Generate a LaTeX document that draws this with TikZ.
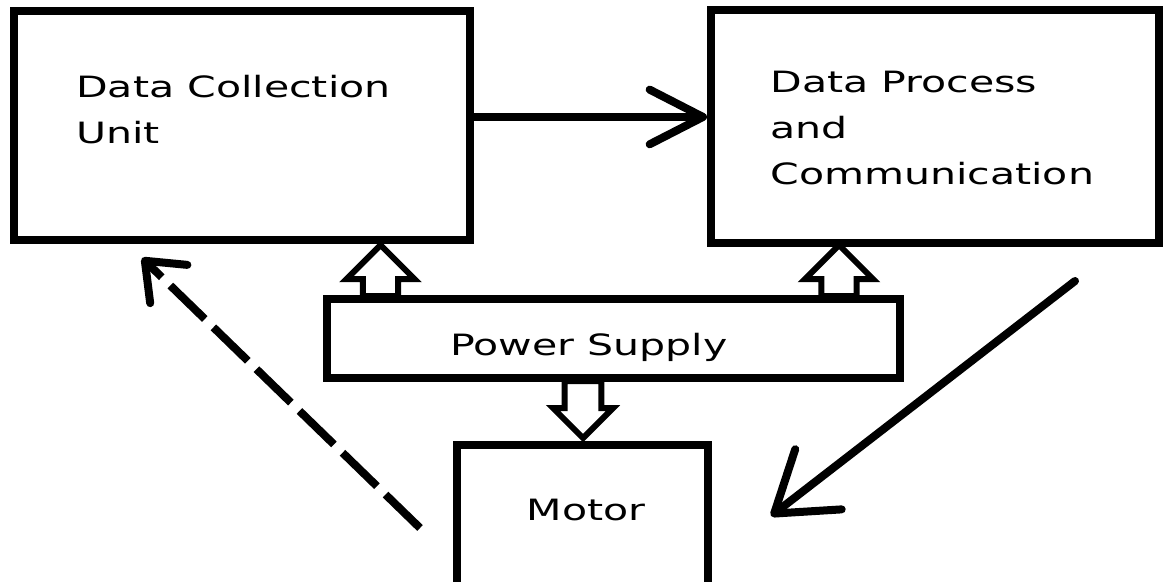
\documentclass[tikz,border=0pt]{standalone}
\usepackage{fontspec}
\setmainfont{DejaVu Sans}
\usetikzlibrary{arrows.meta,shapes.arrows}
\def\blocknode{\node[draw,line width=6pt,inner sep=0pt]}
\def\labelnode{\node[xscale=1.4,align=left,inner sep=0pt,font=\fontsize{22pt}{34.5pt}\selectfont]}
\def\powerarrow{\node[single arrow,draw,fill=white,line width=4.5pt,inner xsep=0pt,anchor=tail]}

\begin{document}
\begin{tikzpicture}[x=0.75pt,y=-0.75pt]
\useasboundingbox (0,0) rectangle (1164,582);
\clip (0,0) rectangle (1164,582);
% the four blocks
\blocknode[minimum width=342pt,minimum height=171.75pt] (collect) at (242,125.5) {};
\blocknode[minimum width=336pt,minimum height=174.75pt] (process) at (935,126.5) {};
\blocknode[minimum width=429.75pt,minimum height=59.25pt] (power) at (613.5,338.5) {};
\blocknode[minimum width=188.25pt,minimum height=131.25pt] (motor) at (582.5,532.5) {};
\labelnode[anchor=base west] (collecttext) at (76,143) {Data Collection\\Unit};
\labelnode[anchor=base west] (processtext) at (770,184) {Data Process\\and\\Communication};
\labelnode[anchor=base] (powertext) at (589,355) {Power Supply};
\labelnode[anchor=base] (motortext) at (586,520) {Motor};
% supply arrows
\powerarrow[rotate=90,minimum height=38.25pt,inner ysep=10.9pt,single arrow head extend=12.4pt] (up1) at (380.5,299) {};
\powerarrow[rotate=90,minimum height=38.25pt,inner ysep=10.9pt,single arrow head extend=12.4pt] (up2) at (839,299) {};
\powerarrow[rotate=-90,minimum height=42.75pt,inner ysep=11.6pt,single arrow head extend=8.6pt] (down) at (583,378) {};
% data flow
\draw[line width=6pt,-{Straight Barb[length=40pt,width=41pt,round]}] ([yshift=6.4pt]collect.east) -- ([yshift=6.4pt]collect.east -| process.west);
\coordinate (feedtail) at (1075,281);
\coordinate (feedtip) at (771,516);
\draw[line width=6pt,line cap=round,-{Straight Barb[length=42pt,width=57pt,round]}] (feedtail) -- (feedtip);
\coordinate (backtail) at (420,528);
\coordinate (backtip) at (142,258);
\draw[line width=6pt,dash pattern=on 36pt off 9pt,-{Straight Barb[length=25pt,width=40pt,round]}] (backtail) -- (backtip);
\end{tikzpicture}
\end{document}
